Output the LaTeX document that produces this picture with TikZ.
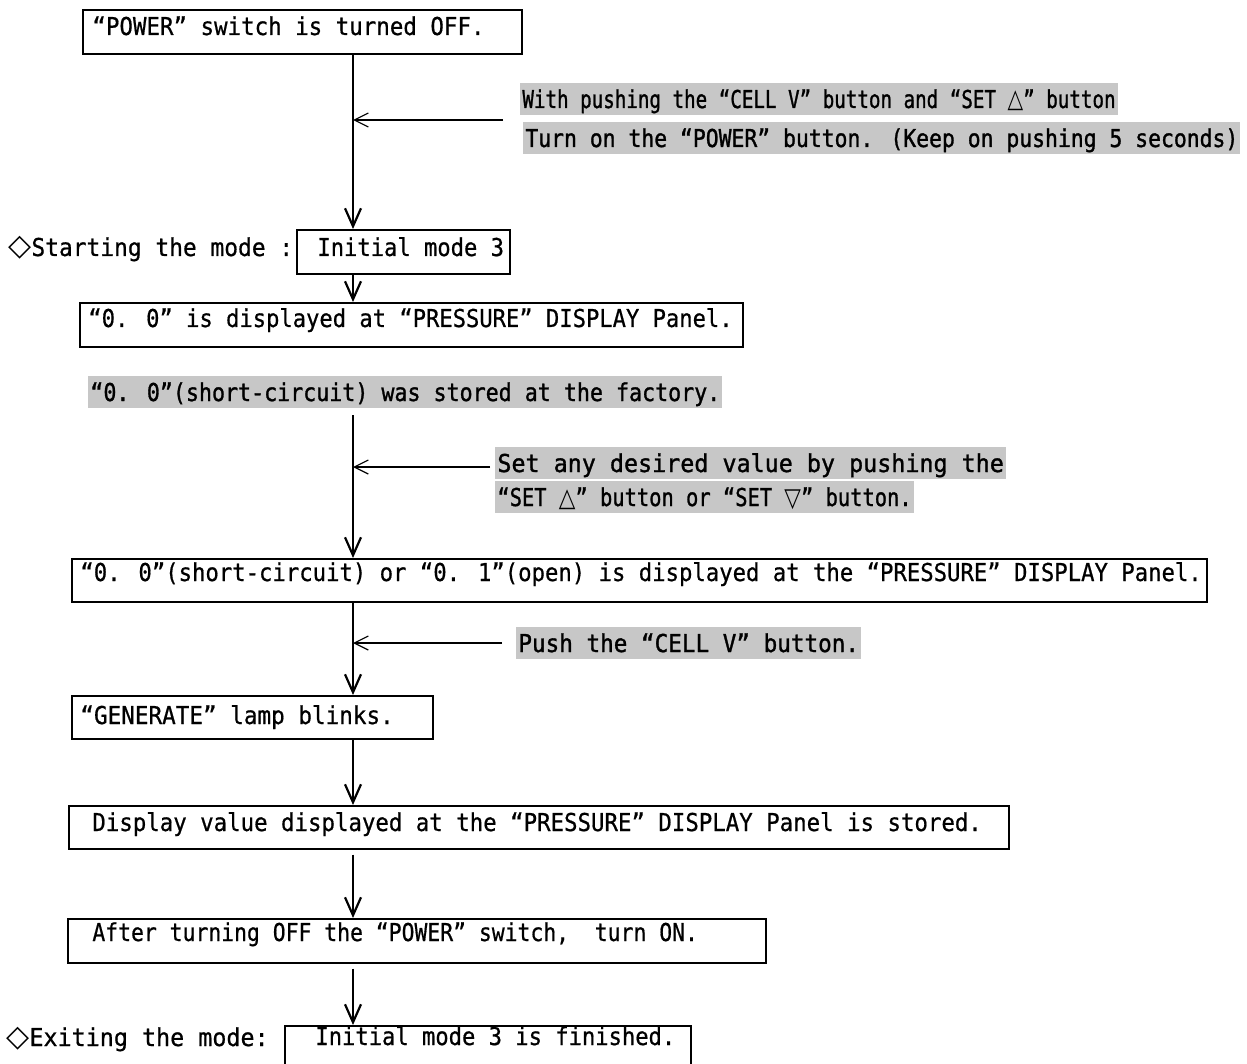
\documentclass[tikz,border=0pt]{standalone}
\usepackage{fontspec}
\newfontfamily\dmono[FakeBold=0.7]{DejaVu Sans Mono}
\newfontfamily\dmonob[FakeBold=1.3]{DejaVu Sans Mono}
\newfontfamily\dsans{DejaVu Sans}
\usetikzlibrary{arrows.meta}
\newcommand\sx[2]{\scalebox{#1}[1]{#2}}
\newcommand\bigsym[1]{{\dsans\fontsize{15}{15}\selectfont #1}}
\newcommand\midsym[1]{{\dsans\fontsize{13}{13}\selectfont #1}}
\begin{document}
\begin{tikzpicture}[x=0.5pt,y=-0.5pt,
  box/.style={draw, line width=0.8pt, inner sep=0pt, anchor=north west},
  txt/.style={font=\dmono\fontsize{12.3}{14}\selectfont, inner sep=0pt, anchor=base west},
  note/.style={txt, font=\dmonob\fontsize{12.3}{14}\selectfont, fill=black!22, inner xsep=1pt, inner ysep=0pt, text height=12.5pt, text depth=3.5pt},
  flow/.style={line width=1.2pt, -{Straight Barb[length=9pt,width=8pt,line width=1.1pt]}},
  hint/.style={line width=0.6pt, -{Straight Barb[length=7pt,width=7pt,line width=0.6pt]}}]
\useasboundingbox (0,0) rectangle (1247,1064);

% boxes
\node[box, minimum width=219.5pt, minimum height=22pt] (b1) at (82,9) {};
\node[box, minimum width=106.5pt, minimum height=22pt] (b2) at (296,229) {};
\node[box, minimum width=331.5pt, minimum height=22pt] (b3) at (79,302) {};
\node[box, minimum width=567.5pt, minimum height=21.5pt] (b4) at (71,558) {};
\node[box, minimum width=180.5pt, minimum height=21.5pt] (b5) at (71,695) {};
\node[box, minimum width=470pt, minimum height=21.5pt] (b6) at (68,805) {};
\node[box, minimum width=349pt, minimum height=22pt] (b7) at (67,918) {};
\node[box, minimum width=203pt, minimum height=40pt] (b8) at (284,1025) {};

% box texts
\node[txt] (t1) at (92,35) {\sx{0.913}{“POWER” switch is turned OFF.}};
\node[txt] (l1) at (8,256) {\bigsym{◇}\sx{0.93}{Starting the mode :}};
\node[txt] (t2) at (317,256) {\sx{0.90}{Initial mode 3}};
\node[txt] (t3) at (88,327) {\sx{0.90}{“0. 0” is displayed at “PRESSURE” DISPLAY Panel.}};
\node[txt] (t4) at (80,581) {\sx{0.905}{“0. 0”(short-circuit) or “0. 1”(open) is displayed at the “PRESSURE” DISPLAY Panel.}};
\node[txt] (t5) at (80,724) {\sx{0.92}{“GENERATE” lamp blinks.}};
\node[txt] (t6) at (92,831) {\sx{0.91}{Display value displayed at the “PRESSURE” DISPLAY Panel is stored.}};
\node[txt] (t7) at (92,941) {\sx{0.87}{After turning OFF the “POWER” switch,~ turn ON.}};
\node[txt] (l2) at (6,1046) {\bigsym{◇}\sx{0.95}{Exiting the mode:}};
\node[txt] (t8) at (315,1045) {\sx{0.90}{Initial mode 3 is finished.}};

% shaded notes
\node[note] (n1) at (520,108) {\sx{0.78}{With pushing the “CELL V” button and “SET \midsym{△}” button}};
\node[note] (n2) at (523,147) {\sx{0.87}{Turn on the “POWER” button. (Keep on pushing 5 seconds)}};
\node[note] (n3) at (88,401) {\sx{0.88}{“0. 0”(short-circuit) was stored at the factory.}};
\node[note] (n4) at (495,472) {\sx{0.95}{Set any desired value by pushing the}};
\node[note] (n5) at (495,506) {\sx{0.83}{“SET \midsym{△}” button or “SET \midsym{▽}” button.}};
\node[note] (n6) at (516,652) {\sx{0.92}{Push the “CELL V” button.}};

% trunk
\coordinate (tx) at (353,0);
\draw[flow] (tx |- b1.south) -- (tx |- b2.north);
\draw[flow] (tx |- b2.south) -- (tx |- b3.north);
\draw[flow, shorten <=3.5pt] (tx |- n3.south) -- (tx |- b4.north);
\draw[flow] (tx |- b4.south) -- (tx |- b5.north);
\draw[flow] (tx |- b5.south) -- (tx |- b6.north);
\draw[flow, shorten <=2.5pt] (tx |- b6.south) -- (tx |- b7.north);
\draw[flow, shorten <=2.5pt] (tx |- b7.south) -- (tx |- b8.north);

% side hints
\coordinate (h1) at (503,120);
\coordinate (h2) at (490,467);
\coordinate (h3) at (502,643);
\draw[hint] (h1) -- (tx |- h1);
\draw[hint] (h2) -- (tx |- h2);
\draw[hint] (h3) -- (tx |- h3);
\end{tikzpicture}
\end{document}
